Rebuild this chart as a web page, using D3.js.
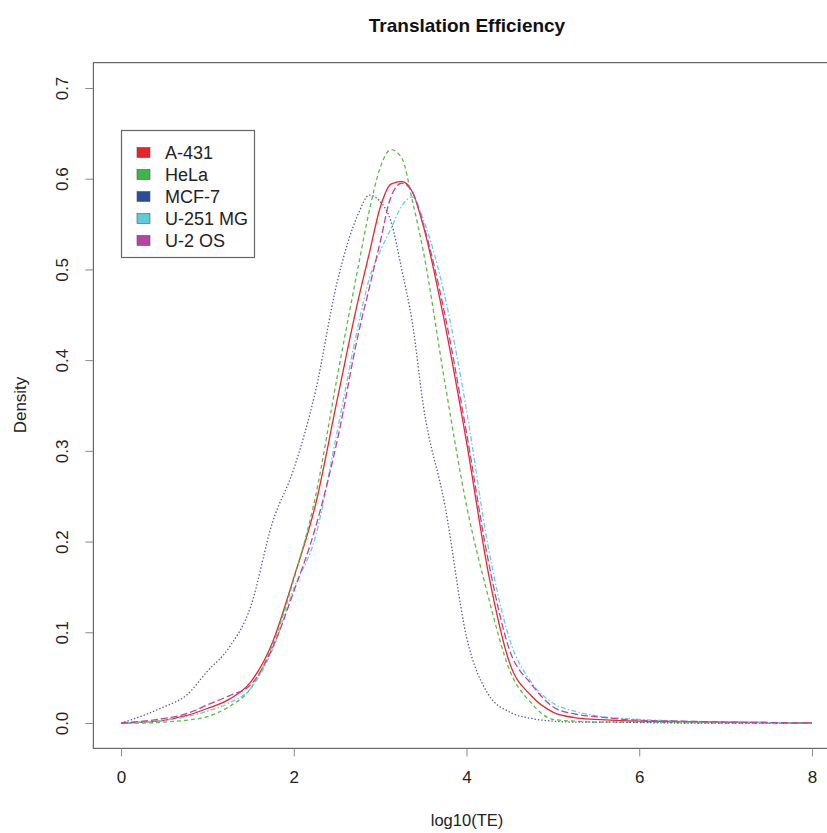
<!DOCTYPE html>
<html>
<head>
<meta charset="utf-8">
<script src="https://cdn.jsdelivr.net/npm/d3@7"></script>
<style>
  html, body { margin: 0; padding: 0; background: #fff; }
  svg { display: block; font-family: "Liberation Sans", Arial, Helvetica, sans-serif; }
</style>
</head>
<body>
<svg id="chart" width="827" height="833"></svg>
<script>
// ---- data ----
const xValues = [0, 0.25, 0.5, 0.75, 1, 1.25, 1.5, 1.75, 2, 2.25, 2.5, 2.75, 2.875, 3, 3.125, 3.25, 3.375, 3.5, 3.75, 4, 4.25, 4.5, 4.75, 5, 5.25, 5.5, 6, 6.5, 7, 7.5, 8];

const a431    = [0, 0.001, 0.003, 0.008, 0.016, 0.026, 0.045, 0.088, 0.160, 0.240, 0.355, 0.468, 0.518, 0.568, 0.594, 0.597, 0.585, 0.548, 0.440, 0.310, 0.167, 0.066, 0.030, 0.012, 0.006, 0.004, 0.002, 0.0015, 0.001, 0.0005, 0];
const hela    = [0, 0.000, 0.001, 0.003, 0.007, 0.018, 0.038, 0.085, 0.158, 0.249, 0.380, 0.505, 0.565, 0.612, 0.632, 0.623, 0.575, 0.520, 0.375, 0.240, 0.140, 0.058, 0.022, 0.004, 0.002, 0.001, 0.001, 0.0005, 0, 0, 0];
const mcf7    = [0, 0.008, 0.018, 0.030, 0.057, 0.083, 0.128, 0.220, 0.280, 0.365, 0.485, 0.562, 0.582, 0.575, 0.553, 0.500, 0.440, 0.350, 0.240, 0.095, 0.032, 0.012, 0.005, 0.002, 0.001, 0.001, 0.0005, 0, 0, 0, 0];
const u251mg  = [0, 0.001, 0.003, 0.007, 0.013, 0.022, 0.038, 0.080, 0.148, 0.205, 0.320, 0.440, 0.490, 0.520, 0.545, 0.570, 0.580, 0.555, 0.470, 0.345, 0.195, 0.092, 0.045, 0.022, 0.013, 0.008, 0.004, 0.002, 0.001, 0.0005, 0];
const u2os    = [0, 0.002, 0.005, 0.010, 0.020, 0.030, 0.042, 0.082, 0.145, 0.215, 0.310, 0.430, 0.480, 0.530, 0.580, 0.595, 0.585, 0.550, 0.450, 0.320, 0.180, 0.080, 0.043, 0.018, 0.010, 0.007, 0.003, 0.002, 0.001, 0.0005, 0];

const seriesNames  = ["A-431", "HeLa", "MCF-7", "U-251 MG", "U-2 OS"];
const seriesValues = [a431, hela, mcf7, u251mg, u2os];
const xTicks = [0, 2, 4, 6, 8];
const yTicks = [0, 0.1, 0.2, 0.3, 0.4, 0.5, 0.6, 0.7];

// ---- styles ----
const lineColors   = ["#e8262c", "#5cbc44", "#5a55a3", "#66cfe2", "#c2409f"];
const swatchColors = ["#e8232a", "#3db54a", "#2b4c9b", "#5dcbdb", "#b444a8"];
const dashes = [null, "4,3", "1.4,2", "1.5,2.2,5,2.2", "7,3"];

const svg = d3.select("#chart");

// R-style 4% axis extension
const x = d3.scaleLinear().domain([-0.32, 8.32]).range([93.4, 839.6]);
const y = d3.scaleLinear().domain([-0.028, 0.728]).range([748.4, 62.6]);

// Title
svg.append("text")
  .attr("x", 467).attr("y", 32)
  .attr("text-anchor", "middle")
  .attr("font-weight", "bold")
  .attr("font-size", 19)
  .attr("fill", "#111")
  .text("Translation Efficiency");

// Lines
const line = d3.line()
  .x((d, i) => x(xValues[i]))
  .y(d => y(d))
  .curve(d3.curveMonotoneX);

const g = svg.append("g");
seriesValues.forEach((vals, k) => {
  g.append("path")
    .datum(vals)
    .attr("d", line)
    .attr("fill", "none")
    .attr("stroke", lineColors[k])
    .attr("stroke-width", 1.3)
    .attr("stroke-dasharray", dashes[k]);
});

// Box
svg.append("rect")
  .attr("x", x.range()[0]).attr("y", y.range()[1])
  .attr("width", x.range()[1] - x.range()[0])
  .attr("height", y.range()[0] - y.range()[1])
  .attr("fill", "none")
  .attr("stroke", "#666")
  .attr("stroke-width", 1.2);

// X axis
const xAxis = svg.append("g")
  .attr("transform", `translate(0,${y.range()[0]})`)
  .call(d3.axisBottom(x).tickValues(xTicks).tickSize(8).tickPadding(15).tickFormat(d3.format("d")));
xAxis.select(".domain").remove();
xAxis.selectAll("line").attr("stroke", "#888");
xAxis.selectAll("text").attr("font-size", 17).attr("fill", "#222")
  .attr("font-family", "Liberation Sans, Arial, sans-serif");

// Y axis
const yAxis = svg.append("g")
  .attr("transform", `translate(${x.range()[0]},0)`)
  .call(d3.axisLeft(y).tickValues(yTicks).tickSize(8).tickFormat(d3.format(".1f")));
yAxis.select(".domain").remove();
yAxis.selectAll("line").attr("stroke", "#888");
yAxis.selectAll("text")
  .attr("font-size", 17).attr("fill", "#222")
  .attr("font-family", "Liberation Sans, Arial, sans-serif")
  .attr("text-anchor", "middle")
  .attr("x", null).attr("dy", null)
  .attr("transform", "translate(-31,0) rotate(-90)")
  .attr("y", 0)
  .attr("dominant-baseline", "central");

// Axis labels
svg.append("text")
  .attr("x", 467).attr("y", 826)
  .attr("text-anchor", "middle")
  .attr("font-size", 16.5).attr("fill", "#222")
  .text("log10(TE)");
svg.append("text")
  .attr("transform", "translate(26,405) rotate(-90)")
  .attr("text-anchor", "middle")
  .attr("font-size", 17).attr("fill", "#222")
  .text("Density");

// Legend
const legend = svg.append("g");
legend.append("rect")
  .attr("x", 121.5).attr("y", 130.5)
  .attr("width", 133).attr("height", 127)
  .attr("fill", "#fff").attr("stroke", "#666").attr("stroke-width", 1.2);
seriesNames.forEach((name, k) => {
  const cy = 152.5 + k * 22;
  legend.append("rect")
    .attr("x", 137).attr("y", cy - 5)
    .attr("width", 13).attr("height", 10)
    .attr("fill", swatchColors[k]).attr("stroke", "#555").attr("stroke-width", 0.6);
  legend.append("text")
    .attr("x", 165).attr("y", cy)
    .attr("dominant-baseline", "central")
    .attr("font-size", 18).attr("fill", "#222")
    .text(name);
});
</script>
</body>
</html>
